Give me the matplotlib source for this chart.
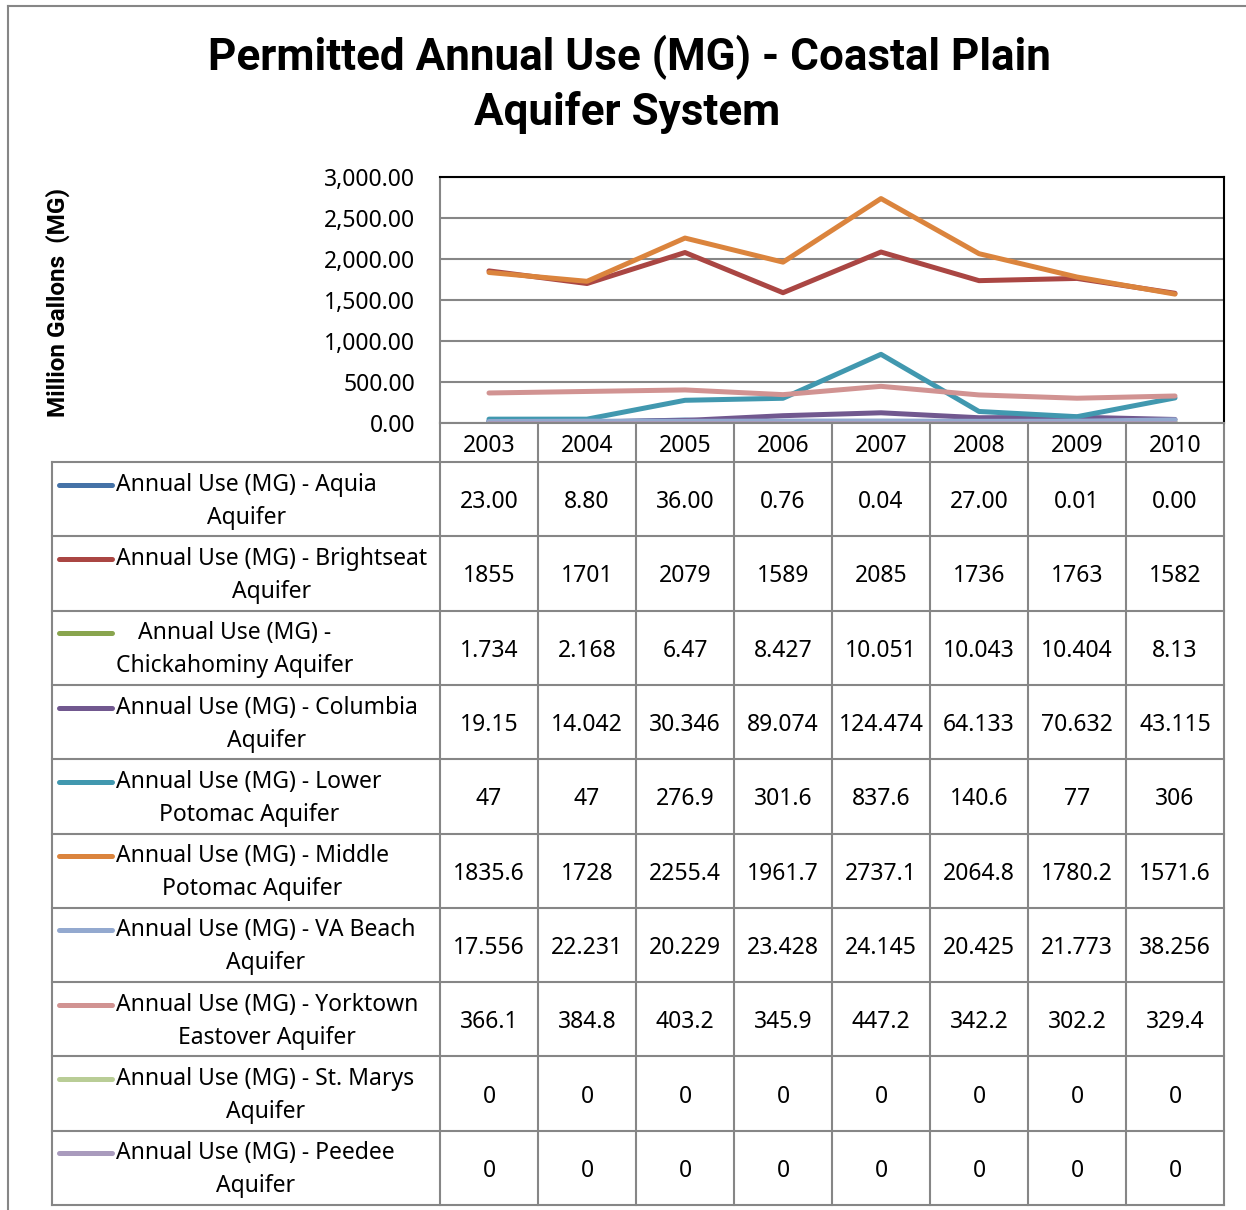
import matplotlib
matplotlib.use("Agg")
import matplotlib.pyplot as plt
from matplotlib.ticker import FuncFormatter

years = ["2003", "2004", "2005", "2006", "2007", "2008", "2009", "2010"]

aquia = [23.00, 8.80, 36.00, 0.76, 0.04, 27.00, 0.01, 0.00]
brightseat = [1855, 1701, 2079, 1589, 2085, 1736, 1763, 1582]
chickahominy = [1.734, 2.168, 6.47, 8.427, 10.051, 10.043, 10.404, 8.13]
columbia = [19.15, 14.042, 30.346, 89.074, 124.474, 64.133, 70.632, 43.115]
lower_potomac = [47, 47, 276.9, 301.6, 837.6, 140.6, 77, 306]
middle_potomac = [1835.6, 1728, 2255.4, 1961.7, 2737.1, 2064.8, 1780.2, 1571.6]
va_beach = [17.556, 22.231, 20.229, 23.428, 24.145, 20.425, 21.773, 38.256]
yorktown = [366.1, 384.8, 403.2, 345.9, 447.2, 342.2, 302.2, 329.4]
st_marys = [0, 0, 0, 0, 0, 0, 0, 0]
peedee = [0, 0, 0, 0, 0, 0, 0, 0]

series = [
    ("Annual Use (MG) - Aquia\nAquifer", aquia, "#4572A7", "{:.2f}"),
    ("Annual Use (MG) - Brightseat\nAquifer", brightseat, "#AA4643", "{:g}"),
    ("Annual Use (MG) -\nChickahominy Aquifer", chickahominy, "#89A54E", "{:g}"),
    ("Annual Use (MG) - Columbia\nAquifer", columbia, "#71588F", "{:g}"),
    ("Annual Use (MG) - Lower\nPotomac Aquifer", lower_potomac, "#4198AF", "{:g}"),
    ("Annual Use (MG) - Middle\nPotomac Aquifer", middle_potomac, "#DB843D", "{:g}"),
    ("Annual Use (MG) - VA Beach\nAquifer", va_beach, "#93A9CF", "{:g}"),
    ("Annual Use (MG) - Yorktown\nEastover Aquifer", yorktown, "#D19392", "{:g}"),
    ("Annual Use (MG) - St. Marys\nAquifer", st_marys, "#B9CD96", "{:g}"),
    ("Annual Use (MG) - Peedee\nAquifer", peedee, "#A99BBD", "{:g}"),
]

W, H = 1246, 1210
GRAY = "#868686"
FONT = "Noto Sans"
BOLD = "Roboto"
fs = 16.5

fig = plt.figure(figsize=(W / 100, H / 100), dpi=100)

# plot area, placed in pixels
left, right, top, bottom = 440, 1224, 177, 423
ax = fig.add_axes([left / W, 1 - bottom / H, (right - left) / W, (bottom - top) / H])
x = range(len(years))
for name, vals, col, _ in series:
    ax.plot(x, vals, color=col, lw=3.6, solid_capstyle="round", solid_joinstyle="round")
ax.set_xlim(-0.5, len(years) - 0.5)
ax.set_ylim(0, 3000)
ax.set_yticks(range(0, 3001, 500))
ax.yaxis.set_major_formatter(FuncFormatter(lambda v, p: f"{v:,.2f}"))
ax.set_xticks([])
ax.grid(axis="y", color=GRAY, lw=1.5)
ax.set_axisbelow(True)
ax.tick_params(axis="y", length=0, pad=18, labelsize=fs)
for lbl in ax.get_yticklabels():
    lbl.set_fontfamily(FONT)
for side, c in [("top", "black"), ("right", "black"), ("left", GRAY), ("bottom", GRAY)]:
    ax.spines[side].set_color(c)
    ax.spines[side].set_linewidth(1.5)

# overlay in pixel coordinates for the data table, titles and border
ov = fig.add_axes([0, 0, 1, 1], zorder=-1)
ov.set_xlim(0, W)
ov.set_ylim(H, 0)
ov.axis("off")

ov.plot([8, W], [6, 6], color=GRAY, lw=1.5)
ov.plot([8, 8], [6, H], color=GRAY, lw=1.5)

ov.text(629, 57, "Permitted Annual Use (MG) - Coastal Plain", ha="center", va="center",
        fontsize=31.7, fontweight="bold", family=BOLD)
ov.text(627, 113, "Aquifer System", ha="center", va="center",
        fontsize=31.7, fontweight="bold", family=BOLD)
ov.text(58, 302, "Million Gallons  (MG)", rotation=90, ha="center", va="center",
        fontsize=17.5, fontweight="bold", family=BOLD)

col_w = (right - left) / len(years)
col_edges = [left + i * col_w for i in range(len(years) + 1)]
row_top = 462
row_h = (1205 - row_top) / len(series)

# vertical lines of the year columns
for xe in col_edges:
    ov.plot([xe, xe], [bottom, row_top + row_h * len(series)], color=GRAY, lw=1.5)
ov.plot([52, 52], [row_top, row_top + row_h * len(series)], color=GRAY, lw=1.5)
for i in range(len(series) + 1):
    yy = row_top + i * row_h
    ov.plot([52, right], [yy, yy], color=GRAY, lw=1.5)

for j, yr in enumerate(years):
    ov.text(left + (j + 0.5) * col_w, 443, yr, ha="center", va="center_baseline",
            fontsize=fs, family=FONT)

for i, (name, vals, col, fmt) in enumerate(series):
    yc = row_top + (i + 0.5) * row_h
    ov.plot([59, 112], [yc - 14.5, yc - 14.5], color=col, lw=3.6, solid_capstyle="round")
    ov.text(116, yc + 2, name, ha="left", va="center", multialignment="center",
            fontsize=fs, family=FONT, linespacing=1.5)
    for j, v in enumerate(vals):
        ov.text(left + (j + 0.5) * col_w, yc + 3, fmt.format(v), ha="center", va="center",
                fontsize=fs, family=FONT)

fig.savefig("out.png", dpi=100)
